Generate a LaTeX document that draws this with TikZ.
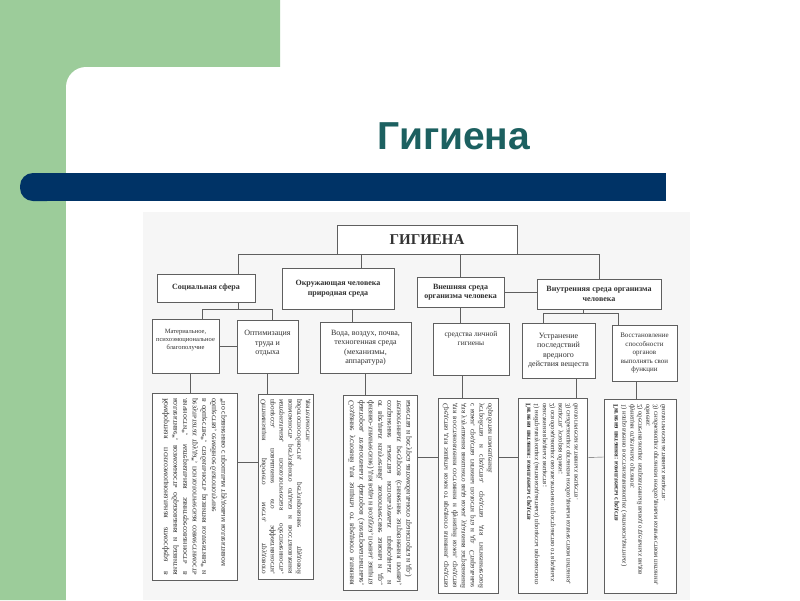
\documentclass[tikz,border=0pt]{standalone}
\usepackage{fontspec}
\usepackage{graphicx}
\usepackage{tikz}
\usetikzlibrary{positioning, calc}
\setmainfont{Liberation Serif}
\newfontfamily\slidefont{Liberation Sans}
\definecolor{slidegreen}{RGB}{156, 204, 154}
\definecolor{slideblue}{RGB}{0, 51, 102}
\definecolor{slideteal}{RGB}{28, 96, 96}
\definecolor{scanline}{RGB}{95, 95, 95}
\definecolor{scanink}{RGB}{50, 50, 50}
\definecolor{scanpaper}{RGB}{246, 246, 246}
\makeatletter
\ifdefined\l@russian
  \newcommand{\rulang}{\language=\l@russian}
\else
  \newcommand{\rulang}{}
\fi
\makeatother
\newcommand{\sidetext}[2]{\rotatebox{90}{\reflectbox{\parbox{#1}{\rulang\emergencystretch=2em #2}}}}

\begin{document}
\begin{tikzpicture}[x=1pt, y=-1pt,
    box/.style={draw=scanline, fill=white, text=scanink, align=center, inner sep=2pt, font=\fontsize{8}{9.5}\selectfont},
    headbox/.style={box, font=\fontsize{8}{9.5}\selectfont\bfseries},
    sidebox/.style={draw=scanline, fill=white, text=scanink, inner sep=2pt, font=\fontsize{7.2}{8.8}\selectfont},
    link/.style={draw=scanline, thin}]
    \useasboundingbox (0,0) rectangle (800,600);

    % Slide background
    \fill[white] (0,0) rectangle (800,600);
    \fill[slidegreen] (0,0) rectangle (280,67) (0,0) rectangle (90,600);
    \fill[white, rounded corners=20] (66,67) rectangle (830,640);

    % Title and bar
    \fill[slideblue] (40,173) rectangle (666,201);
    \fill[slideblue, rounded corners=13] (20,173) rectangle (60,201);
    \node[slideteal, font=\slidefont\bfseries\fontsize{39}{39}\selectfont] (title) at (454,136) {Гигиена};

    % Scanned chart
    \fill[scanpaper] (143,212) rectangle (690,600);

    \node[box, minimum width=180, minimum height=29, font=\fontsize{15}{15}\selectfont\bfseries] (hyg) at (427,239.5) {ГИГИЕНА};

    % Second row
    \node[headbox, minimum width=98, minimum height=28] (social) at (206,288) {Социальная сфера};
    \node[headbox, minimum width=112, minimum height=41] (nature) at (338,288.5) {Окружающая человека\\природная среда};
    \node[headbox, minimum width=87, minimum height=30] (outer) at (460.5,292) {Внешняя среда\\организма человека};
    \node[headbox, minimum width=124, minimum height=30] (inner) at (599,294) {Внутренняя среда организма\\человека};

    % Third row
    \node[box, minimum width=67, minimum height=54, text depth=13pt, font=\fontsize{6.5}{8}\selectfont] (wellbeing) at (185.5,346) {Материальное,\\психоэмоциональное\\благополучие};
    \node[box, minimum width=61, minimum height=53, text depth=8pt] (labour) at (267.5,346.5) {Оптимизация\\труда и\\отдыха};
    \node[box, minimum width=91, minimum height=51] (water) at (365.5,347.5) {Вода, воздух, почва,\\техногенная среда\\(механизмы,\\аппаратура)};
    \node[box, minimum width=76, minimum height=52, text depth=21pt, font=\fontsize{7.5}{9}\selectfont] (hygiene) at (471,349) {средства личной\\гигиены};
    \node[box, minimum width=73, minimum height=55] (removal) at (558.5,350.5) {Устранение\\последствий\\вредного\\действия веществ};
    \node[box, minimum width=65, minimum height=56, font=\fontsize{7}{8.5}\selectfont] (recovery) at (644.5,353) {Восстановление\\способности\\органов\\выполнять свои\\функции};

    % Bottom row (text set sideways)
    \node[sidebox, minimum width=85, minimum height=187, font=\fontsize{7.8}{9.6}\selectfont] (comfort) at (194.5,486.5) {\sidetext{177pt}{Комфортная психоэмоциональная атмосфера в коллективе*, возможность образования и развития личности*, материальная заинтересованность в результатах труда*, психологическая совместимость в обществе*, стабильность развития коллектива* и общества, семейное благополучие\par *по сравнению с прошлым трудовым коллективом}};
    \node[sidebox, minimum width=53, minimum height=185] (workplace) at (285.5,486.5) {\sidetext{175pt}{Оптимизация рабочего места, трудового процесса, повышение его эффективности, материальная, психологическая обеспеченность, возможность регулярного отдыха и восстановления работоспособности, регулирование трудовой деятельности.}};
    \node[sidebox, minimum width=74, minimum height=195, font=\fontsize{7.8}{9.4}\selectfont] (ecology) at (380,492.5) {\sidetext{185pt}{Создание условий для защиты от вредного влияния факторов, техногенных факторов (электромагнитные, физико-химические) для воды и воздуха, почвы, защита от вредных излучений, экологические законы и др., сохранение качества используемых природных и техногенных ресурсов (снижение загрязнения почвы, качества и ресурса автомобильного транспорта и др.)}};
    \node[sidebox, minimum width=60, minimum height=195] (cosmetics) at (468,495.5) {\sidetext{185pt}{Средства для защиты кожи от вредного влияния, средства для восстановления состояния и функций кожи, средства для улучшения внешнего вида кожи, удаления загрязнений с кожи, средства гигиены полости рта и др. Стиральные устройства и средства, средства для гигиенической обработки помещений.}};
    \node[sidebox, minimum width=69, minimum height=195, font=\fontsize{6.8}{7.9}\selectfont] (dietA) at (552.5,495.5) {\sidetext{185pt}{\raggedright\textbf{Гигиена питания: комплексы средств}\par 1) нейтрализующих (антиоксидантных) процессы перекисного окисления вредных веществ;\par 2) освобождающих околоклеточное пространство от вредных веществ, ускоряя обмен;\par 3) снабжающих организм необходимым количеством питания, биологически активных веществ.}};
    \node[sidebox, minimum width=72, minimum height=194, font=\fontsize{6.8}{7.9}\selectfont] (dietB) at (640,496) {\sidetext{184pt}{\raggedright\textbf{Гигиена питания: комплексы средств}\par 1) направленно восстанавливающих (антиоксидантных) функции отдельных органов;\par 2) обеспечивающих направленный вывод отдельных видов обмена;\par 3) снабжающих организм необходимым количеством питания, биологически активных веществ.}};

    % Connectors
    \draw[link] ([xshift=-17pt]social.north east) |- (hyg.south) -| (inner.north);
    \draw[link] ([xshift=23pt]nature.north) |- (hyg.south);
    \draw[link] (outer.north) |- (hyg.south);
    \draw[link] (outer.east) -- (outer.east -| inner.west);

    \draw[link] ([xshift=-17pt]social.south east) -- ++(0,7) coordinate (social-fork);
    \draw[link] ([xshift=17pt]wellbeing.north) |- (social-fork) -| ([xshift=5pt]labour.north);
    \draw[link] (wellbeing.east) -- (wellbeing.east -| labour.west);
    \draw[link] ([xshift=14pt]nature.south) |- (water.north);
    \draw[link] (outer.south) |- (hygiene.north);
    \draw[link] ([xshift=-16pt]inner.south) -- ++(0,4) coordinate (inner-fork);
    \draw[link] ([xshift=-15pt]removal.north) |- (inner-fork) -| ([xshift=-26pt]recovery.north);

    \draw[link] ([xshift=5pt]wellbeing.south) |- (comfort.north);
    \draw[link] (labour.south) |- (workplace.north);
    \draw[link] (water.south) |- (ecology.north);
    \draw[link] ([xshift=-9pt]hygiene.south) |- (cosmetics.north);
    \draw[link] ([xshift=18pt]removal.south) |- (dietA.north);
    \draw[link] ([xshift=-8pt]recovery.south) |- (dietB.north);

    \draw[link] ([yshift=24pt]comfort.east) -- ([yshift=24pt]workplace.west);
    \draw[link] ([yshift=35pt]ecology.east) -- ([yshift=38pt]cosmetics.west);
    \draw[link] ([yshift=38pt]cosmetics.east) -- ([yshift=38pt]dietA.west);
    \draw[link] ([yshift=38pt]dietA.east) -- ([yshift=39pt]dietB.west);
\end{tikzpicture}
\end{document}
